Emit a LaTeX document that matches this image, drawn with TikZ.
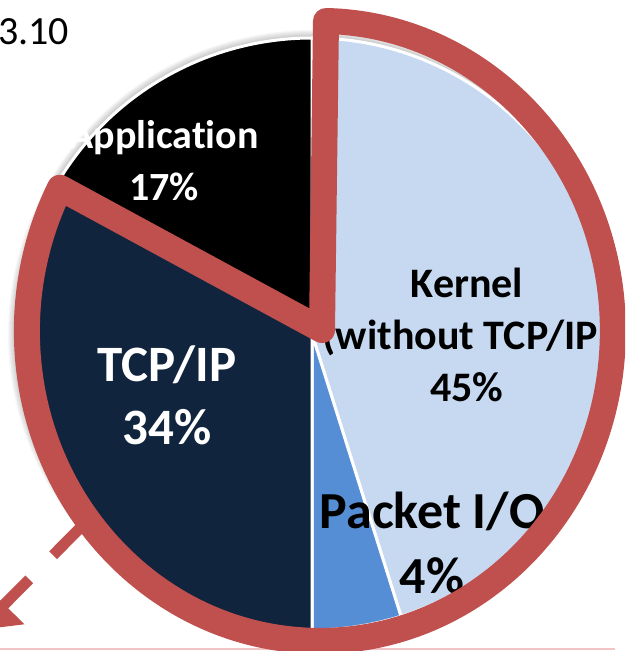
\documentclass[tikz,border=0pt]{standalone}
\usepackage{fontspec}
\setmainfont{Carlito}[Ligatures=NoCommon]
\usetikzlibrary{arrows.meta}
\definecolor{appblack}{HTML}{000000}
\definecolor{tcpnavy}{HTML}{10243E}
\definecolor{pktblue}{HTML}{558ED5}
\definecolor{kernblue}{HTML}{C6D9F1}
\definecolor{hilite}{HTML}{C0504D}
\definecolor{rulepink}{HTML}{F4C4C4}
\begin{document}
\begin{tikzpicture}[x=1pt,y=1pt,
  slice/.style={draw=white, line width=3pt, line join=round},
  lbl/.style={align=center, inner sep=0pt},
  outline/.style={draw=hilite, line width=26pt, line join=round},
  pointer/.style={draw=hilite, line width=11pt, dash pattern=on 50pt off 34pt,
    -{Triangle[width=54pt,length=36pt]}},
]
\useasboundingbox (0,0) rectangle (625,651);
\clip (0,0) rectangle (625,651);

% caption fragment in the corner
\node[anchor=base west, inner sep=0pt, font=\fontsize{40}{48}\selectfont] (ver) at (-2,606) {3.10};

% thin rule along the bottom
\draw[rulepink, line width=2pt] (0,1.5) -- (615,1.5);

% pie centre and radius
\coordinate (C) at (312,317);
\def\R{296}

% soft shadow around the pie
\foreach \s in {1,...,8} \fill[black, opacity=0.03] (C) circle ({\R+\s});

% slices
\filldraw[slice, fill=kernblue] (C) -- ++(90:\R) arc[start angle=90, end angle=-72.5, radius=\R] -- cycle;
\filldraw[slice, fill=pktblue] (C) -- ++(-72.5:\R) arc[start angle=-72.5, end angle=-90, radius=\R] -- cycle;
\filldraw[slice, fill=tcpnavy] (C) -- ++(-90:\R) arc[start angle=270, end angle=150.5, radius=\R] -- cycle;
\filldraw[slice, fill=appblack] (C) -- ++(150.5:\R) arc[start angle=150.5, end angle=90, radius=\R] -- cycle;

% slice labels
\node[lbl, text=white, font=\fontsize{40}{52}\selectfont\bfseries] (app) at (164,490) {Application\\17\%};
\node[lbl, text=black, font=\fontsize{42}{52}\selectfont\bfseries] (kern) at (467,316) {Kernel\\(without TCP/IP)\\45\%};
\node[lbl, text=white, font=\fontsize{51}{63}\selectfont\bfseries] (tcp) at (167,256) {TCP/IP\\34\%};
\node[lbl, text=black, font=\fontsize{52}{65}\selectfont\bfseries] (pkt) at (432,108) {Packet I/O\\4\%};

% dashed pointer leaving the highlight
\coordinate (ptrStart) at (88.3,131.3);
\coordinate (ptrTip) at (-21,21);
\draw[pointer] (ptrStart) -- (ptrTip);

% highlight round the kernel, packet I/O and TCP/IP share
\draw[outline] (326,630) arc[start angle=88.8, end angle=-207.5, x radius=293, y radius=310] -- (322,321) -- cycle;
\end{tikzpicture}
\end{document}
